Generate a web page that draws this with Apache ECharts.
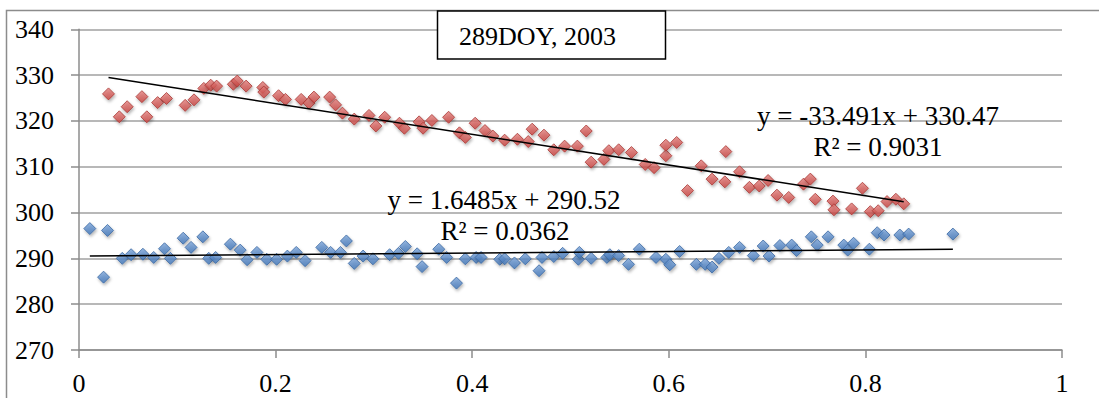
<!DOCTYPE html>
<html>
<head>
<meta charset="utf-8">
<script src="https://cdn.jsdelivr.net/npm/echarts@6/dist/echarts.min.js"></script>
<style>
html,body{margin:0;padding:0;background:#fff;}
#chart{width:1099px;height:398px;}
</style>
</head>
<body>
<div id="chart"></div>
<script>
// ---- data ----
const titleText = '289DOY, 2003';
const yTicks = [270, 280, 290, 300, 310, 320, 330, 340];
const xTicks = [0, 0.2, 0.4, 0.6, 0.8, 1];

const redX = [0.030,0.041,0.049,0.064,0.069,0.080,0.089,0.108,0.117,0.127,0.134,0.140,0.157,0.161,0.170,0.187,0.188,0.203,0.210,0.226,0.234,0.239,0.255,0.261,0.268,0.280,0.295,0.302,0.311,0.326,0.331,0.346,0.350,0.359,0.376,0.387,0.393,0.403,0.413,0.421,0.433,0.446,0.457,0.461,0.473,0.483,0.494,0.507,0.516,0.521,0.534,0.539,0.549,0.562,0.576,0.585,0.597,0.597,0.608,0.619,0.633,0.644,0.657,0.658,0.672,0.682,0.692,0.701,0.710,0.722,0.737,0.744,0.749,0.767,0.768,0.786,0.797,0.805,0.813,0.822,0.831,0.839];
const redY = [325.9,320.9,323.1,325.3,320.9,324.0,324.9,323.4,324.6,327.1,327.8,327.6,328.0,328.7,327.6,327.3,326.3,325.5,324.7,324.7,323.9,325.2,325.2,323.5,321.7,320.4,321.2,318.9,320.8,319.5,318.4,319.8,318.4,320.1,320.8,317.4,316.4,319.5,317.9,316.7,315.8,316.0,315.5,318.2,316.9,313.7,314.5,314.5,317.8,311.0,311.6,313.5,313.7,313.1,310.5,309.8,312.4,314.7,315.3,304.8,310.2,307.3,306.7,313.3,308.9,305.5,305.8,307.0,303.8,303.3,306.2,307.3,302.9,302.5,300.6,300.8,305.3,300.2,300.4,302.4,302.9,301.9];

const blueX = [0.011,0.025,0.029,0.044,0.053,0.065,0.076,0.087,0.093,0.106,0.114,0.126,0.132,0.139,0.154,0.164,0.171,0.181,0.191,0.201,0.212,0.221,0.230,0.247,0.256,0.266,0.272,0.280,0.289,0.299,0.316,0.325,0.332,0.344,0.349,0.366,0.374,0.384,0.393,0.404,0.409,0.428,0.433,0.443,0.454,0.468,0.471,0.483,0.492,0.508,0.509,0.521,0.537,0.540,0.549,0.559,0.570,0.587,0.597,0.601,0.611,0.628,0.637,0.644,0.651,0.661,0.672,0.686,0.696,0.702,0.713,0.725,0.730,0.745,0.751,0.762,0.778,0.782,0.788,0.804,0.812,0.819,0.835,0.844,0.889];
const blueY = [296.5,285.9,296.1,290.0,290.8,290.9,290.2,292.1,290.0,294.4,292.4,294.7,290.0,290.2,293.1,291.8,289.7,291.3,289.8,289.8,290.5,291.3,289.5,292.4,291.3,291.3,293.8,288.9,290.5,289.9,290.8,291.1,292.6,291.0,288.2,292.0,290.2,284.6,289.9,290.2,290.2,289.8,289.9,289.0,289.9,287.3,290.2,290.4,291.1,289.8,291.3,290.0,290.2,290.8,290.6,288.7,292.0,290.2,289.8,288.6,291.5,288.7,288.7,288.1,290.0,291.3,292.4,290.6,292.7,290.5,292.8,292.9,291.7,294.7,292.9,294.7,292.9,291.8,293.3,292.0,295.6,295.1,295.1,295.3,295.3];

// trendline coefficients [slope, intercept, R2] as printed on the chart
const redFit = [-33.491, 330.47, 0.9031];
const blueFit = [1.6485, 290.52, 0.0362];

// ---- build ----
function pairs(xs, ys){ return xs.map((x,i)=>[x, ys[i]]); }
function trend(xs, fit){
  const a = Math.min(...xs), b = Math.max(...xs);
  return [[a, fit[0]*a + fit[1]], [b, fit[0]*b + fit[1]]];
}
function eqText(fit){
  const s = fit[0] < 0 ? '-' + Math.abs(fit[0]) : String(fit[0]);
  return 'y = ' + s + 'x + ' + fit[1].toFixed(2);
}
function r2Text(fit){ return 'R\u00B2 = ' + fit[2].toFixed(4); }

const FONT = 'Liberation Serif';
const gridCol = '#a0a0a0';

function markerStyle(light, dark, border){
  return {
    color: new echarts.graphic.LinearGradient(0,0,0,1,[{offset:0,color:light},{offset:1,color:dark}]),
    borderColor: border, borderWidth: 1,
    shadowBlur: 3, shadowColor: 'rgba(0,0,0,0.35)', shadowOffsetX: 1, shadowOffsetY: 2
  };
}

const chart = echarts.init(document.getElementById('chart'), null, {renderer:'svg'});
chart.setOption({
  animation: false,
  backgroundColor: '#fff',
  grid: {left: 79, right: 37, top: 29.3, bottom: 48, containLabel: false},
  xAxis: {
    type: 'value', min: xTicks[0], max: xTicks[xTicks.length-1], interval: 0.2,
    axisLine: {show: true, onZero: false, lineStyle: {color: '#8c8c8c', width: 1.5}},
    axisTick: {show: true, length: 8, lineStyle: {color: '#8c8c8c', width: 1.5}},
    splitLine: {show: false},
    axisLabel: {color: '#000', fontFamily: FONT, fontSize: 26, margin: 20,
      formatter: v => String(+v.toFixed(1))}
  },
  yAxis: {
    type: 'value', min: yTicks[0], max: yTicks[yTicks.length-1], interval: 10,
    axisLine: {show: true, lineStyle: {color: '#8c8c8c', width: 1.5}},
    axisTick: {show: true, length: 8, lineStyle: {color: '#8c8c8c', width: 1.5}},
    splitLine: {show: true, lineStyle: {color: gridCol, width: 1.5}},
    axisLabel: {color: '#000', fontFamily: FONT, fontSize: 26, margin: 25}
  },
  series: [
    {type: 'scatter', name: 'blue', data: pairs(blueX, blueY), symbol: 'diamond', symbolSize: 12,
     itemStyle: markerStyle('#7aa3d8', '#3f75b8', '#3a68a3'), z: 2},
    {type: 'scatter', name: 'red', data: pairs(redX, redY), symbol: 'diamond', symbolSize: 12,
     itemStyle: markerStyle('#e27f7c', '#c8423f', '#a93835'), z: 2},
    {type: 'line', data: trend(blueX, blueFit), symbol: 'none', silent: true,
     lineStyle: {color: '#000', width: 1.5}, z: 5},
    {type: 'line', data: trend(redX, redFit), symbol: 'none', silent: true,
     lineStyle: {color: '#000', width: 1.5}, z: 5}
  ],
  graphic: [
    {type: 'rect', shape: {x: 6.5, y: 10.5, width: 1200, height: 600}, silent: true,
     style: {fill: 'none', stroke: '#8c8c8c', lineWidth: 1.5}, z: 0},
    {type: 'rect', shape: {x: 437.5, y: 11, width: 228, height: 48}, silent: true,
     style: {fill: '#fff', stroke: '#000', lineWidth: 1.5}, z: 10},
    {type: 'text', x: 459, y: 36, silent: true, z: 11,
     style: {text: titleText, font: '26px "' + FONT + '"', fill: '#000', textAlign: 'left', textVerticalAlign: 'middle'}},
    {type: 'text', x: 504, y: 200, silent: true, z: 11,
     style: {text: eqText(blueFit), font: '27px "' + FONT + '"', fill: '#000', textAlign: 'center', textVerticalAlign: 'middle'}},
    {type: 'text', x: 505, y: 231, silent: true, z: 11,
     style: {text: r2Text(blueFit), font: '27px "' + FONT + '"', fill: '#000', textAlign: 'center', textVerticalAlign: 'middle'}},
    {type: 'text', x: 878, y: 116, silent: true, z: 11,
     style: {text: eqText(redFit), font: '27px "' + FONT + '"', fill: '#000', textAlign: 'center', textVerticalAlign: 'middle'}},
    {type: 'text', x: 878, y: 147, silent: true, z: 11,
     style: {text: r2Text(redFit), font: '27px "' + FONT + '"', fill: '#000', textAlign: 'center', textVerticalAlign: 'middle'}}
  ]
});
</script>
</body>
</html>
